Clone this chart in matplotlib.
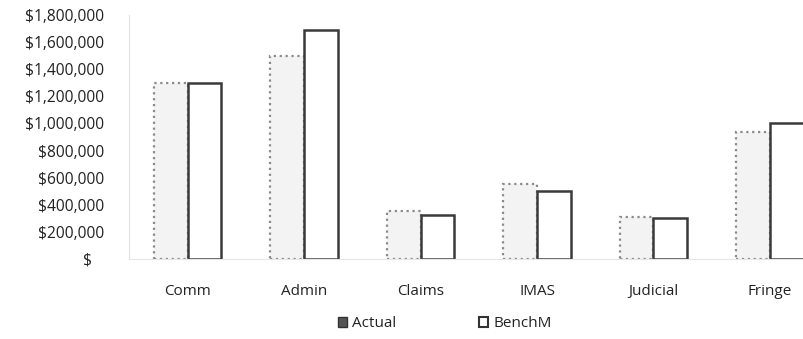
import matplotlib.pyplot as plt
import numpy as np
from matplotlib.patches import Patch
from matplotlib.ticker import FuncFormatter

categories = ["Comm", "Admin", "Claims", "IMAS", "Judicial", "Fringe"]
actual = [1300000, 1500000, 355000, 555000, 310000, 940000]
benchm = [1300000, 1690000, 326000, 503000, 304000, 1000000]
y_ticks = [0, 200000, 400000, 600000, 800000, 1000000, 1200000, 1400000, 1600000, 1800000]


def money(value, _pos):
    if value == 0:
        return "$   "
    return f"${value:,.0f}"


plt.rcParams["font.family"] = ["Open Sans", "DejaVu Sans"]

fig = plt.figure(figsize=(8.04, 3.39), dpi=100)
# the scanned chart is cut off on the right, so the axes run past the figure edge
ax = fig.add_axes([0.161, 0.236, 0.869, 0.720])

x = np.arange(len(categories))
width = 0.29
ax.bar(x - width / 2, actual, width, color="#f3f3f3", edgecolor="#8a8a8a",
       linestyle=":", linewidth=1.6, label="Actual")
ax.bar(x + width / 2, benchm, width, color="white", edgecolor="#3a3a3a",
       linewidth=1.8, label="BenchM")

ax.set_xlim(-0.5, len(categories) - 0.5)
ax.set_ylim(0, 1800000)
ax.set_yticks(y_ticks)
ax.yaxis.set_major_formatter(FuncFormatter(money))
ax.set_xticks(x)
ax.set_xticklabels(categories)

for side in ["top", "right"]:
    ax.spines[side].set_visible(False)
ax.spines["left"].set_color("#e2e2e2")
ax.spines["bottom"].set_color("#e6e6e6")
ax.tick_params(axis="y", length=0, pad=18, labelsize=11.2, labelcolor="#222222")
ax.tick_params(axis="x", length=0, pad=18, labelsize=11, labelcolor="#222222")

handles = [
    Patch(facecolor="#555555", edgecolor="#333333", label="Actual"),
    Patch(facecolor="white", edgecolor="#333333", linewidth=1.5, label="BenchM"),
]
fig.legend(handles=handles, loc="center", bbox_to_anchor=(0.553, 0.045), ncol=2,
           frameon=False, fontsize=11, handlelength=0.6, handleheight=0.6,
           handletextpad=0.35, columnspacing=5.4, labelcolor="#222222")

fig.savefig("out.png", dpi=100)
